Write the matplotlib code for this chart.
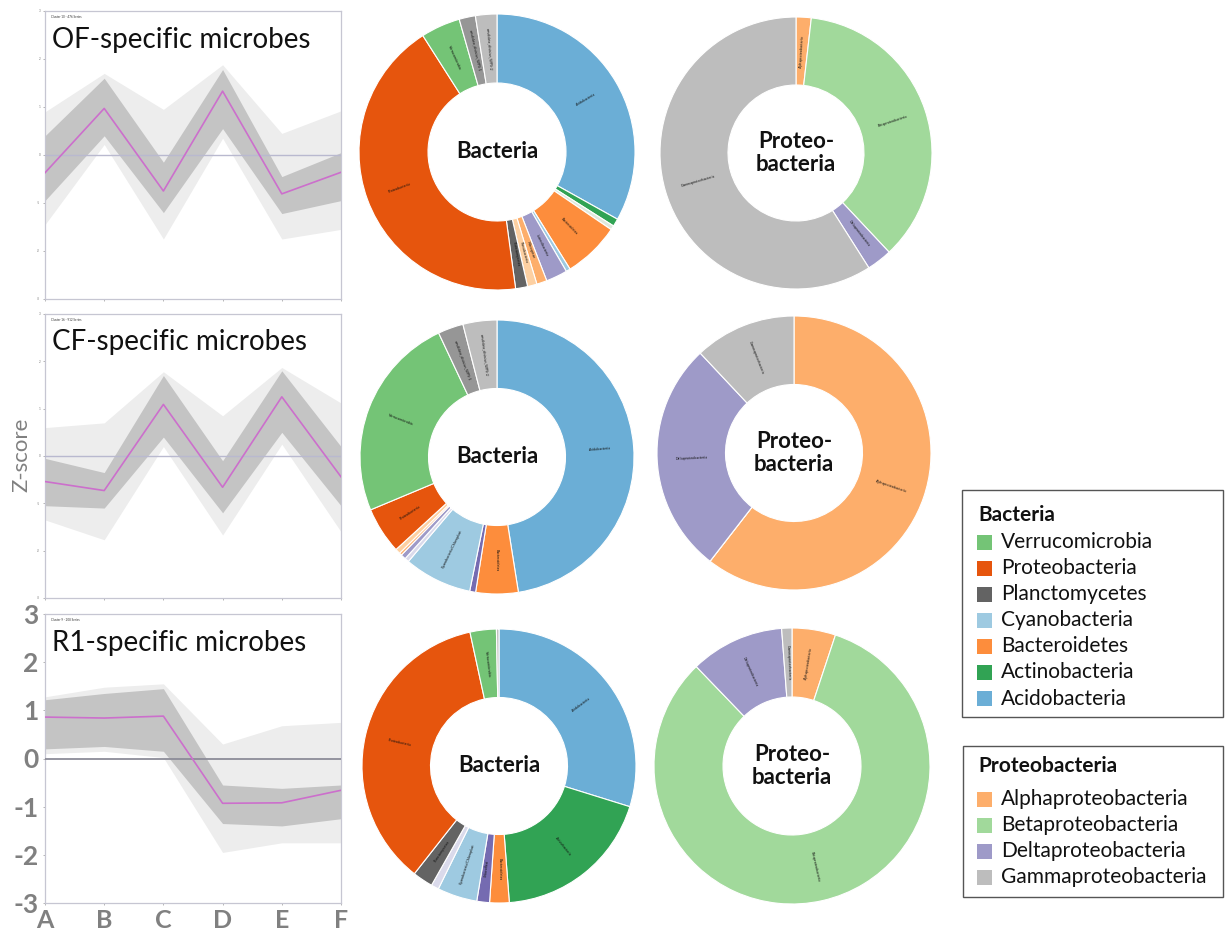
import numpy as np
import matplotlib
matplotlib.use("Agg")
import matplotlib.pyplot as plt
from matplotlib.patches import Rectangle

W, H = 1227, 936
FONT = ["Lato", "DejaVu Sans"]
plt.rcParams["font.family"] = FONT

conditions = ["A", "B", "C", "D", "E", "F"]
z_ticks = [3, 2, 1, 0, -1, -2, -3]

# z-score profiles of the three clusters: mean trace, dense core and full spread
of_mean     = [-0.37, 0.97, -0.75, 1.33, -0.81, -0.36]
of_core_hi  = [0.40, 1.60, -0.15, 1.78, -0.45, 0.05]
of_core_lo  = [-0.95, 0.40, -1.20, 0.55, -1.22, -0.95]
of_range_hi = [0.90, 1.70, 0.95, 1.88, 0.45, 0.92]
of_range_lo = [-1.45, 0.22, -1.75, 0.35, -1.75, -1.55]

cf_mean     = [-0.54, -0.73, 1.09, -0.66, 1.25, -0.44]
cf_core_hi  = [-0.05, -0.35, 1.70, -0.10, 1.80, 0.20]
cf_core_lo  = [-1.05, -1.10, 0.40, -1.20, 0.50, -1.05]
cf_range_hi = [0.60, 0.70, 1.78, 0.85, 1.87, 1.12]
cf_range_lo = [-1.35, -1.77, 0.20, -1.67, 0.25, -1.60]

r1_mean     = [0.86, 0.84, 0.88, -0.93, -0.92, -0.66]
r1_core_hi  = [1.22, 1.35, 1.45, -0.55, -0.62, -0.55]
r1_core_lo  = [0.20, 0.25, 0.15, -1.35, -1.40, -1.25]
r1_range_hi = [1.28, 1.48, 1.55, 0.30, 0.68, 0.75]
r1_range_lo = [0.10, 0.15, 0.02, -1.95, -1.75, -1.75]

# phylum composition (%) of each cluster, clockwise from 12 o'clock
of_phyla = ["Acidobacteria", "Actinobacteria", "Armatimonadetes", "Bacteroidetes",
            "Cyanobacteria/Chloroplast", "Latescibacteria", "Nitrospirae", "Parcubacteria",
            "Planctomycetes", "Proteobacteria", "Verrucomicrobia",
            "candidate_division_WPS-1", "candidate_division_WPS-2"]
of_phyla_pct = [33.0, 0.9, 0.5, 6.6, 0.5, 2.5, 1.2, 1.1, 1.4, 43.0, 4.6, 1.9, 2.5]

cf_phyla = ["Acidobacteria", "Bacteroidetes", "Chloroflexi", "Cyanobacteria/Chloroplast",
            "Gemmatimonadetes", "Latescibacteria", "Nitrospirae", "Parcubacteria",
            "Proteobacteria", "Verrucomicrobia",
            "candidate_division_WPS-1", "candidate_division_WPS-2"]
cf_phyla_pct = [47.5, 5.0, 0.7, 8.0, 0.5, 0.6, 0.3, 0.6, 5.5, 24.3, 3.0, 4.0]

r1_phyla = ["Acidobacteria", "Actinobacteria", "Bacteroidetes", "Chloroflexi",
            "Cyanobacteria/Chloroplast", "Gemmatimonadetes", "Planctomycetes",
            "Proteobacteria", "Verrucomicrobia", "candidate_division_WPS-2"]
r1_phyla_pct = [29.8, 19.0, 2.3, 1.5, 4.7, 0.9, 2.4, 36.0, 3.1, 0.3]

# proteobacterial class composition (%)
proteo_classes = ["Alphaproteobacteria", "Betaproteobacteria",
                  "Deltaproteobacteria", "Gammaproteobacteria"]
of_class_pct = [1.8, 36.2, 3.0, 59.0]
cf_class_pct = [60.5, 0.0, 27.5, 12.0]
r1_class_pct = [5.1, 82.7, 11.0, 1.2]

legend_phyla = ["Verrucomicrobia", "Proteobacteria", "Planctomycetes", "Cyanobacteria",
                "Bacteroidetes", "Actinobacteria", "Acidobacteria"]

taxon_colors = {
    "Acidobacteria": "#6baed6",
    "Actinobacteria": "#31a354",
    "Armatimonadetes": "#dfe9dc",
    "Bacteroidetes": "#fd8d3c",
    "Chloroflexi": "#756bb1",
    "Cyanobacteria/Chloroplast": "#9ecae1",
    "Cyanobacteria": "#9ecae1",
    "Gemmatimonadetes": "#dadaeb",
    "Latescibacteria": "#9e9ac8",
    "Nitrospirae": "#fdae6b",
    "Parcubacteria": "#fdd0a2",
    "Planctomycetes": "#636363",
    "Proteobacteria": "#e6550d",
    "Verrucomicrobia": "#74c476",
    "candidate_division_WPS-1": "#969696",
    "candidate_division_WPS-2": "#bdbdbd",
    "Alphaproteobacteria": "#fdae6b",
    "Betaproteobacteria": "#a1d99b",
    "Deltaproteobacteria": "#9e9ac8",
    "Gammaproteobacteria": "#bdbdbd",
}

fig = plt.figure(figsize=(W / 100, H / 100), dpi=100)
fig.patch.set_facecolor("white")


def px_axes(left, top, right, bottom, **kw):
    return fig.add_axes([left / W, 1 - bottom / H, (right - left) / W, (bottom - top) / H], **kw)


def profile_panel(top, bottom, mean, core_lo, core_hi, rng_lo, rng_hi, title, small_title,
                  big_ticks=False):
    ax = px_axes(45, top, 341, bottom)
    x = np.arange(len(conditions))
    ax.fill_between(x, rng_lo, rng_hi, color="#ededed", lw=0, zorder=1)
    ax.fill_between(x, core_lo, core_hi, color="#c4c4c4", lw=0, zorder=2)
    zero_col = "#8c8c98" if big_ticks else "#b9b9cf"
    ax.axhline(0, color=zero_col, lw=1.3 if big_ticks else 1.0, zorder=3)
    ax.plot(x, mean, color="#cc6fcc", lw=1.2, zorder=4)
    ax.set_xlim(0, 5)
    ax.set_ylim(-3, 3)
    ax.set_xticks(x)
    ax.set_yticks(z_ticks)
    for s in ax.spines.values():
        s.set_color("#c6c6d2")
        s.set_linewidth(0.9)
    if big_ticks:
        ax.set_xticklabels(conditions)
        ax.set_yticklabels([str(t) for t in z_ticks])
        ax.tick_params(axis="y", length=1.5, width=0.5, color="#999999", labelcolor="#808080",
                       labelsize=19, pad=3)
        ax.tick_params(axis="x", length=1.5, width=0.5, color="#999999", labelcolor="#808080",
                       labelsize=18, pad=3)
        for lab in ax.get_xticklabels() + ax.get_yticklabels():
            lab.set_fontweight("bold")
    else:
        ax.set_xticklabels([""] * len(conditions))
        ax.set_yticklabels([str(t) for t in z_ticks])
        ax.tick_params(length=1.5, width=0.5, color="#999999", labelcolor="#777777",
                       labelsize=2.2, pad=2)
    ax.text(0.02, 0.985, small_title, transform=ax.transAxes, fontsize=2.2,
            va="top", ha="left", color="#333333")
    ax.text(0.024, 0.872, title, transform=ax.transAxes, fontsize=20,
            va="baseline", ha="left", color="#111111")
    return ax


profile_panel(11, 299, of_mean, of_core_lo, of_core_hi, of_range_lo, of_range_hi,
              "OF-specific microbes", "Cluster 10 - 476 Series")
profile_panel(314, 598, cf_mean, cf_core_lo, cf_core_hi, cf_range_lo, cf_range_hi,
              "CF-specific microbes", "Cluster 16 - 912 Series")
profile_panel(614, 903, r1_mean, r1_core_lo, r1_core_hi, r1_range_lo, r1_range_hi,
              "R1-specific microbes", "Cluster 9 - 208 Series", big_ticks=True)


def donut(cx, cy, r, names, values, center_text, min_label=1.0):
    ax = px_axes(cx - r, cy - r, cx + r, cy + r)
    wedges, _ = ax.pie(values, colors=[taxon_colors[n] for n in names], startangle=90,
                       counterclock=False, radius=1.0,
                       wedgeprops=dict(width=0.5, edgecolor="white", linewidth=0.8))
    ax.set_xlim(-1.0, 1.0)
    ax.set_ylim(-1.0, 1.0)
    ax.set_aspect("equal")
    ax.axis("off")
    for w, name, v in zip(wedges, names, values):
        if v < min_label:
            continue
        mid = np.deg2rad(0.5 * (w.theta1 + w.theta2))
        rr = w.r - w.width / 2
        rot = np.rad2deg(mid) % 360
        if 90 < rot < 270:
            rot -= 180
        ax.text(rr * np.cos(mid), rr * np.sin(mid), name, rotation=rot,
                rotation_mode="anchor", ha="center", va="center", fontsize=2.6,
                color="#111111")
    ax.text(0, 0, center_text, ha="center", va="center", fontsize=16,
            fontweight="bold", color="#111111", linespacing=1.15)


donut(497, 152, 138, of_phyla, of_phyla_pct, "Bacteria")
donut(796, 153, 136, proteo_classes, of_class_pct, "Proteo-\nbacteria")
donut(497, 457, 137, cf_phyla, cf_phyla_pct, "Bacteria")
donut(794, 453, 137, proteo_classes, cf_class_pct, "Proteo-\nbacteria")
donut(499, 766, 137, r1_phyla, r1_phyla_pct, "Bacteria")
donut(792, 766, 138, proteo_classes, r1_class_pct, "Proteo-\nbacteria")

# overlay in pixel coordinates for axis title and the two legend boxes
ov = fig.add_axes([0, 0, 1, 1])
ov.set_xlim(0, W)
ov.set_ylim(H, 0)
ov.axis("off")
ov.patch.set_alpha(0)

ov.text(21, 455, "Z-score", rotation=90, ha="center", va="center", fontsize=16,
        color="#808080")


def legend_box(x0, y0, x1, y1, title, title_y, names, first_y, step):
    ov.add_patch(Rectangle((x0, y0), x1 - x0, y1 - y0, fill=False, ec="#555555", lw=1.0))
    ov.text(978, title_y, title, fontsize=15, fontweight="bold", ha="left", va="center",
            color="#111111")
    for i, n in enumerate(names):
        y = first_y + i * step
        ov.add_patch(Rectangle((977, y - 7.5), 15, 15, color=taxon_colors[n], lw=0))
        ov.text(1001, y, n, fontsize=15, ha="left", va="center", color="#111111")


legend_box(962, 490, 1223, 717, "Bacteria", 515, legend_phyla, 542, 26.1)
legend_box(963, 746, 1223, 897, "Proteobacteria", 766, proteo_classes, 799, 26)

fig.savefig("out.png", dpi=100, facecolor="white")
